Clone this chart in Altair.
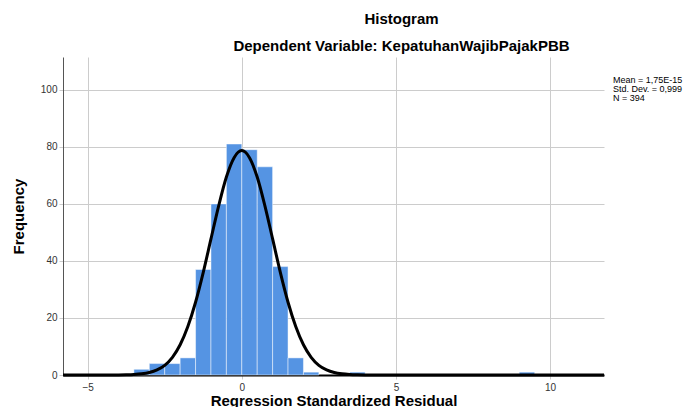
import altair as alt
import pandas as pd

# Histogram bins (left edges), width 0.5, and counts
bin_starts = [-3.5, -3.0, -2.5, -2.0, -1.5, -1.0, -0.5, 0.0, 0.5, 1.0, 1.5, 2.0, 3.5, 9.0]
counts = [2, 4, 4, 6, 37, 60, 81, 79, 73, 38, 6, 1, 1, 1]
bin_width = 0.5

# Normal curve points
curve_x = [-5.8, -4.0, -3.75, -3.5, -3.25, -3.0, -2.75, -2.5, -2.25, -2.0, -1.75, -1.5, -1.25,
           -1.0, -0.75, -0.5, -0.25, 0.0, 0.25, 0.5, 0.75, 1.0, 1.25, 1.5, 1.75, 2.0, 2.25,
           2.5, 2.75, 3.0, 3.25, 3.5, 3.75, 4.0, 11.75]
curve_y = [0.0, 0.03, 0.07, 0.17, 0.4, 0.87, 1.8, 3.4, 6.2, 10.6, 17.0, 25.5, 36.0,
           47.7, 59.3, 69.4, 76.2, 78.7, 76.2, 69.4, 59.3, 47.7, 36.0, 25.5, 17.0, 10.6, 6.2,
           3.4, 1.8, 0.87, 0.4, 0.17, 0.07, 0.03, 0.0]

x_ticks = [-5, 0, 5, 10]
y_ticks = [0, 20, 40, 60, 80, 100]
x_domain = [-5.8, 11.75]
y_domain = [0, 111.5]
legend_lines = ["Mean = 1,75E-15", "Std. Dev. = 0,999", "N = 394"]

FONT = "Liberation Sans"
W, H = 541, 318

bars_df = pd.DataFrame({"start": bin_starts, "count": counts})
bars_df["end"] = bars_df["start"] + bin_width
curve_df = pd.DataFrame({"x": curve_x, "y": curve_y})

x_scale = alt.Scale(domain=x_domain, nice=False, zero=False)
y_scale = alt.Scale(domain=y_domain, nice=False)

x_axis = alt.Axis(values=x_ticks, title="Regression Standardized Residual", format="d",
                  domainColor="#000000", domainWidth=2, tickColor="#cccccc", tickSize=4,
                  gridColor="#cccccc", labelPadding=3, titlePadding=1)
y_axis = alt.Axis(values=y_ticks, title="Frequency", format="d",
                  domainColor="#555555", domainWidth=1, tickColor="#cccccc", tickSize=4,
                  gridColor="#cccccc", labelPadding=2, titlePadding=14)

bars = alt.Chart(bars_df).mark_bar(
    color="#5594e3", stroke="#ffffff", strokeOpacity=0.6, strokeWidth=0.8
).encode(
    x=alt.X("start:Q", scale=x_scale, axis=x_axis),
    x2="end:Q",
    y=alt.Y("count:Q", scale=y_scale, axis=y_axis),
    y2=alt.datum(0),
)

curve = alt.Chart(curve_df).mark_line(
    color="#000000", strokeWidth=3, interpolate="monotone"
).encode(
    x=alt.X("x:Q", scale=x_scale),
    y=alt.Y("y:Q", scale=y_scale),
)

legend = alt.Chart(alt.Data(values=[{}])).mark_text(
    align="left", baseline="top", fontSize=9, lineHeight=9, font=FONT, color="#000000"
).encode(
    x=alt.value(W + 9),
    y=alt.value(19),
    text=alt.value(legend_lines),
)

chart = alt.layer(bars, curve, legend).properties(
    width=W,
    height=H,
    autosize=alt.AutoSizeParams(type="none"),
    padding={"left": 55, "top": 49, "right": 79, "bottom": 32},
    title=alt.TitleParams(
        text="Histogram",
        subtitle="Dependent Variable: KepatuhanWajibPajakPBB",
        anchor="middle", dx=68, offset=3, subtitlePadding=12,
        font=FONT, fontSize=15, fontWeight="bold", color="#000000",
        subtitleFont=FONT, subtitleFontSize=15, subtitleFontWeight="bold",
        subtitleColor="#000000",
    ),
).configure_view(stroke=None).configure_axis(
    labelFont=FONT, labelFontSize=10, labelColor="#333333",
    titleFont=FONT, titleFontSize=15, titleFontWeight="bold", titleColor="#000000",
)

chart.save("out.html", embed_options={"renderer": "svg", "actions": False})
